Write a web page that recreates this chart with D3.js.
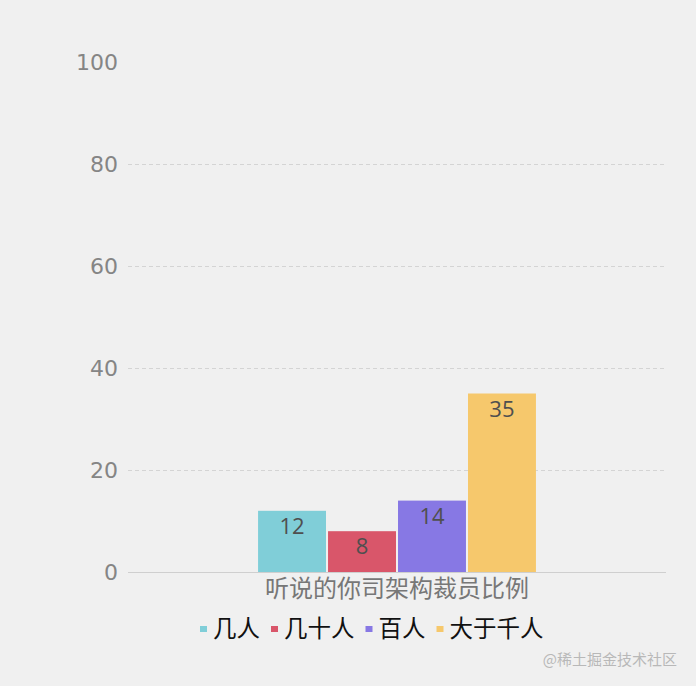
<!DOCTYPE html>
<html>
<head>
<meta charset="utf-8">
<script src="https://cdn.jsdelivr.net/npm/d3@7"></script>
<style>
  body { margin: 0; background: #f0f0f0; }
  svg { display: block; }
</style>
</head>
<body>
<div id="chart"></div>
<script>
const category = "听说的你司架构裁员比例";
const seriesNames = ["几人", "几十人", "百人", "大于千人"];
const seriesValues = [12, 8, 14, 35];
const seriesColors = ["#80ced8", "#d9566a", "#8778e4", "#f6c86c"];
const yTicks = [0, 20, 40, 60, 80, 100];

const width = 696, height = 686;
const margin = { top: 62, right: 30, bottom: 114, left: 128 };

const svg = d3.select("#chart").append("svg")
  .attr("width", width)
  .attr("height", height);

svg.append("rect").attr("width", width).attr("height", height).attr("fill", "#f0f0f0");

const y = d3.scaleLinear().domain([0, 100]).range([height - margin.bottom, margin.top]);
const x0 = d3.scaleBand().domain([category]).range([margin.left, width - margin.right]).paddingInner(0).paddingOuter(0.468);
const x1 = d3.scaleBand().domain(seriesNames).range([0, x0.bandwidth()]).paddingInner(0.029);

// grid lines
svg.append("g")
  .selectAll("line")
  .data(yTicks.filter(d => d > 0 && d < 100))
  .join("line")
  .attr("x1", margin.left)
  .attr("x2", width - margin.right)
  .attr("y1", d => y(d) + 0.5)
  .attr("y2", d => y(d) + 0.5)
  .attr("stroke", "#d4d4d4")
  .attr("stroke-dasharray", "4,3");

// y axis labels
const yAxis = d3.axisLeft(y).tickValues(yTicks).tickSize(0).tickPadding(10);
svg.append("g")
  .attr("transform", `translate(${margin.left},0)`)
  .call(yAxis)
  .call(g => g.select(".domain").remove())
  .call(g => g.selectAll("text")
    .attr("fill", "#858585")
    .style("font-family", "'DejaVu Sans', sans-serif")
    .style("font-size", "22px"));

// bars
const bars = svg.append("g")
  .selectAll("g")
  .data(seriesNames.map((n, i) => ({ name: n, value: seriesValues[i], color: seriesColors[i] })))
  .join("g")
  .attr("transform", d => `translate(${x0(category) + x1(d.name)},0)`);

bars.append("rect")
  .attr("y", d => y(d.value))
  .attr("width", x1.bandwidth())
  .attr("height", d => y(0) - y(d.value))
  .attr("fill", d => d.color);

bars.append("text")
  .attr("x", x1.bandwidth() / 2)
  .attr("y", d => y(d.value) + 23)
  .attr("text-anchor", "middle")
  .attr("fill", "#4f4f4f")
  .style("font-family", "'Open Sans', sans-serif")
  .style("font-size", "22px")
  .text(d => d.value);

// x axis baseline
svg.append("line")
  .attr("x1", margin.left)
  .attr("x2", width - margin.right)
  .attr("y1", y(0) + 0.5)
  .attr("y2", y(0) + 0.5)
  .attr("stroke", "#cfcfcf");

const xAxis = d3.axisBottom(x0).tickSize(0).tickPadding(8);
svg.append("g")
  .attr("transform", `translate(0,${y(0)})`)
  .call(xAxis)
  .call(g => g.select(".domain").remove())
  .call(g => g.selectAll("text")
    .attr("fill", "#777")
    .style("font-family", "'Noto Sans CJK SC', sans-serif")
    .style("font-size", "24px"));

// legend
const legend = svg.append("g").attr("transform", "translate(0,629)");
let lx = 200;
seriesNames.forEach((name, i) => {
  const item = legend.append("g").attr("transform", `translate(${lx},0)`);
  item.append("rect")
    .attr("x", 0).attr("y", -3)
    .attr("width", 7).attr("height", 6)
    .attr("fill", seriesColors[i]);
  const t = item.append("text")
    .attr("x", 13)
    .attr("dy", "0.36em")
    .attr("fill", "#111")
    .style("font-family", "'Noto Sans CJK SC', sans-serif")
    .style("font-size", "23.5px")
    .text(name);
  lx += 13 + t.node().getComputedTextLength() + 11;
});

// watermark
svg.append("text")
  .attr("x", 677)
  .attr("y", 665)
  .attr("text-anchor", "end")
  .attr("fill", "#b8b8b8")
  .style("font-family", "'Noto Sans CJK SC', sans-serif")
  .style("font-size", "15px")
  .text("@稀土掘金技术社区");
</script>
</body>
</html>
